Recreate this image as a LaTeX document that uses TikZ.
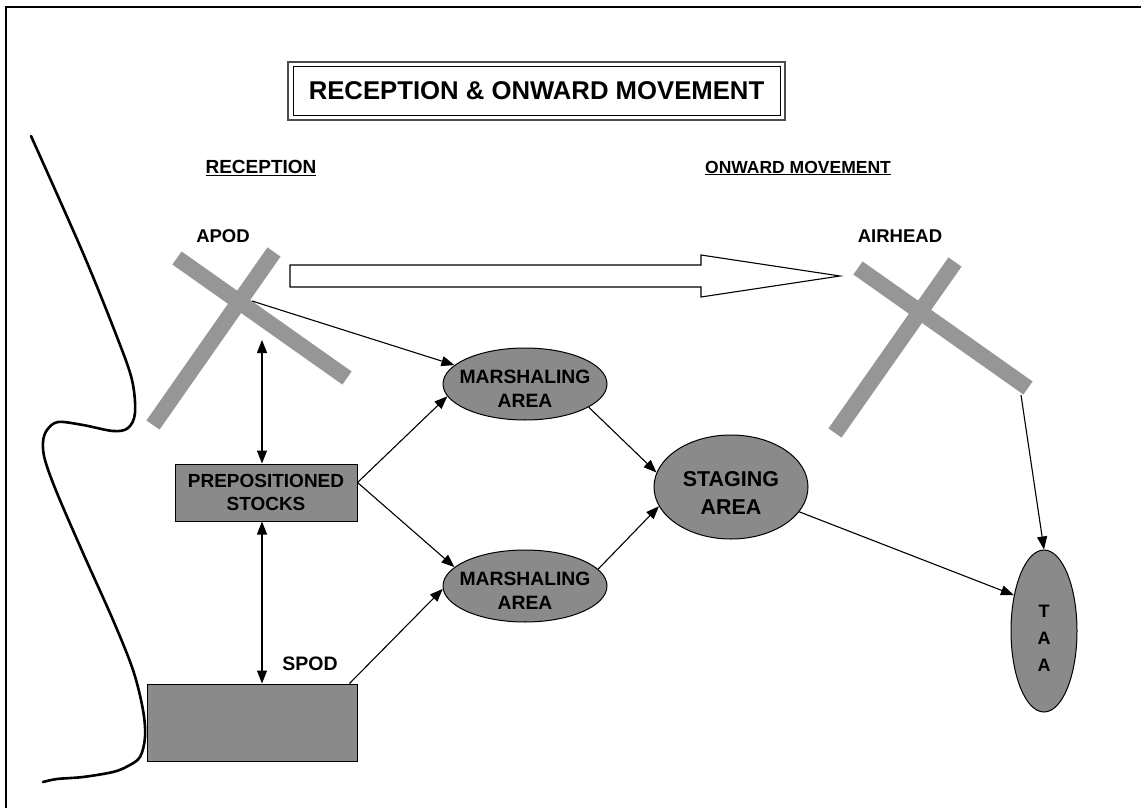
\documentclass[tikz,border=0pt]{standalone}
\usepackage{fontspec}
\setmainfont{Liberation Sans}
\usetikzlibrary{shapes.geometric,arrows.meta,calc}
\definecolor{shadefill}{RGB}{138,138,138}
\definecolor{barfill}{RGB}{150,150,150}
\begin{document}
\begin{tikzpicture}[x=1pt,y=-1pt,
  tip/.tip={Triangle[length=13pt,width=10pt]},
  box/.style={draw=black, line width=1pt, fill=shadefill, inner sep=0pt, align=center,
    font=\bfseries\fontsize{19}{23}\selectfont},
  oval/.style={ellipse, draw=black, line width=1pt, fill=shadefill, inner sep=0pt},
  ovaltext/.style={inner sep=0pt, align=center},
  link/.style={-tip, line width=1.1pt},
  bothlink/.style={tip-tip, line width=1.1pt},
  bar/.style={barfill, line width=16pt},
  lbl/.style={font=\bfseries\fontsize{18.5}{20}\selectfont, inner sep=0pt},
  head/.style={font=\bfseries\fontsize{19}{20}\selectfont, inner sep=0pt}
]
\useasboundingbox (0,0) rectangle (1141,808);

% page frame
\draw[line width=2pt] (6,808) -- (6,7) -- (1141,7);

% coastline
\draw[line width=2.6pt, line cap=round, line join=round]
  plot[smooth, tension=0.55] coordinates {
    (31,136) (83,253) (117,337) (132,380) (135,413) (128,428) (113,431)
    (83,425) (58,422) (47,430) (43,442) (45,460) (57,493) (83,553)
    (113,620) (133,670) (143,710) (145,737) (140,757) (128,766) (113,772)
    (83,777) (57,779) (43,782)};

% title with a double frame
\node[draw=black, line width=1pt, minimum width=487pt, minimum height=48pt, inner sep=0pt,
      font=\bfseries\fontsize{25.7}{28}\selectfont] (title) at (536.5,91)
  {RECEPTION \& ONWARD MOVEMENT};
\draw[line width=1.8pt, black!70]
  ([shift={(-4.5pt,4.5pt)}]title.north west) rectangle ([shift={(4.5pt,-4.5pt)}]title.south east);

\node[head] (rec) at (261,168) {\underline{RECEPTION}};
\node[head, font=\bfseries\fontsize{17.5}{20}\selectfont] (onw) at (798,168) {\underline{ONWARD MOVEMENT}};

% airfields
\draw[bar] (153,425) -- (274,252);
\draw[bar] (177,258) -- (347,378);
\coordinate (apod) at (252,301);
\node[lbl] (apodlbl) at (223,236) {APOD};

\draw[bar] (835,433) -- (955,262);
\draw[bar] (858,268) -- (1028,388);
\coordinate (airhead) at (1021,395);
\node[lbl] (airlbl) at (900,236) {AIRHEAD};

% block arrow between the airfields
\draw[line width=1.1pt, fill=white]
  (290,265) -- (701,265) -- (701,255) -- (840,276) -- (701,297) -- (701,287) -- (290,287) -- cycle;

% stocks and sea port
\node[box, minimum width=182pt, minimum height=57pt] (stocks) at (266,492.5)
  {PREPOSITIONED\\STOCKS};
\node[box, minimum width=210pt, minimum height=77pt] (spod) at (252,722.5) {};
\node[lbl, font=\bfseries\fontsize{19.5}{20}\selectfont] (spodlbl) at (310,664) {SPOD};

% areas
\node[oval, minimum width=164pt, minimum height=72pt] (marsh1) at (525,384) {};
\node[ovaltext, font=\bfseries\fontsize{19.3}{24}\selectfont] (marsh1txt) at (525,388.5) {MARSHALING\\AREA};
\node[oval, minimum width=164pt, minimum height=72pt] (marsh2) at (525,586) {};
\node[ovaltext, font=\bfseries\fontsize{19.3}{24}\selectfont] (marsh2txt) at (525,590.5) {MARSHALING\\AREA};
\node[oval, minimum width=154pt, minimum height=104pt] (staging) at (731,487) {};
\node[ovaltext, font=\bfseries\fontsize{21.5}{28}\selectfont] (stagingtxt) at (731,492.5) {STAGING\\AREA};
\node[oval, minimum width=66pt, minimum height=162pt] (taa) at (1044,631) {};
\node[ovaltext, font=\bfseries\fontsize{18}{27}\selectfont] (taatxt) at (1044,638) {T\\A\\A};

% connectors
\coordinate (vline) at (262,340);
\draw[bothlink] (vline) -- (vline |- stocks.north);
\draw[bothlink] (stocks.south -| vline) -- (spod.north -| vline);

\draw[link] (apod) -- (marsh1.165);
\draw[link] ([yshift=10pt]stocks.east) -- (marsh1.189);
\draw[link] ([yshift=10pt]stocks.east) -- (marsh2.165);
\draw[link] ([xshift=-8pt]spod.north east) -- (marsh2.182);
\draw[link] (marsh1.-20) -- (staging.169);
\draw[link] (marsh2.13) -- (staging.195);
\draw[link] (staging.-20) -- (taa.130);
\draw[link] (airhead) -- (taa.north);
\end{tikzpicture}
\end{document}
